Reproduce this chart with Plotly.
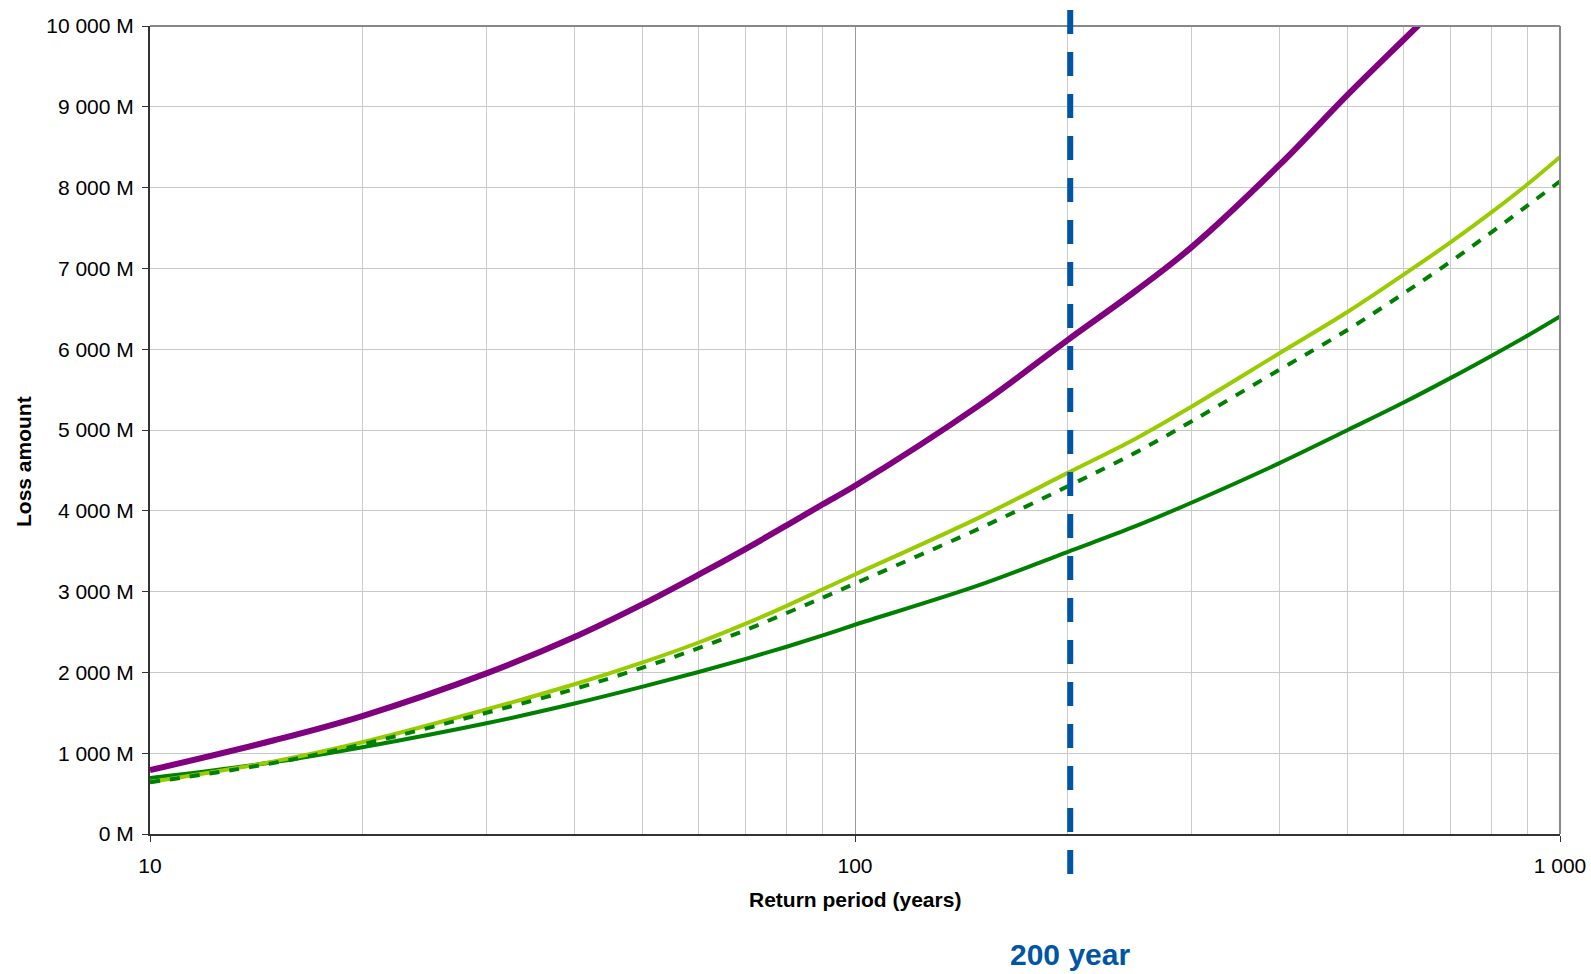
import math
import plotly.graph_objects as go

# Return periods (years)
return_period = [10, 15, 20, 30, 40, 50, 60, 70, 80, 90, 100, 150, 200, 250, 300,
                 400, 500, 600, 700, 800, 900, 1000]

# Loss amounts (millions)
purple_loss = [790, 1160, 1460, 1988, 2438, 2845, 3209, 3530, 3820, 4081, 4310, 5305,
               6110, 6720, 7260, 8280, 9150, 9830, 10400, 10900, 11350, 11750]
light_green_loss = [644, 899, 1136, 1541, 1853, 2124, 2370, 2604, 2824, 3029, 3212, 3916,
                    4466, 4892, 5288, 5950, 6464, 6923, 7325, 7696, 8044, 8380]
dashed_green_loss = [640, 880, 1110, 1500, 1795, 2060, 2300, 2525, 2735, 2925, 3100, 3780,
                     4300, 4720, 5106, 5746, 6241, 6690, 7085, 7450, 7780, 8078]
dark_green_loss = [693, 890, 1073, 1370, 1615, 1824, 2005, 2168, 2318, 2458, 2590, 3080,
                   3490, 3810, 4100, 4590, 5000, 5340, 5645, 5920, 6170, 6406]

y_ticks = [0, 1000, 2000, 3000, 4000, 5000, 6000, 7000, 8000, 9000, 10000]
y_labels = ["0 M", "1 000 M", "2 000 M", "3 000 M", "4 000 M", "5 000 M",
            "6 000 M", "7 000 M", "8 000 M", "9 000 M", "10 000 M"]
x_ticks = [10, 100, 1000]
x_labels = ["10", "100", "1 000"]
x_minor = [20, 30, 40, 50, 60, 70, 80, 90, 200, 300, 400, 500, 600, 700, 800, 900]
marker_period = 200

FONT = "Liberation Sans, Arial, sans-serif"

fig = go.Figure()
fig.add_trace(go.Scatter(x=return_period, y=dark_green_loss, mode="lines",
                         line=dict(color="#008000", width=4, shape="spline", smoothing=1),
                         showlegend=False, hoverinfo="x+y"))
fig.add_trace(go.Scatter(x=return_period, y=light_green_loss, mode="lines",
                         line=dict(color="#99CC00", width=4, shape="spline", smoothing=1),
                         showlegend=False, hoverinfo="x+y"))
fig.add_trace(go.Scatter(x=return_period, y=dashed_green_loss, mode="lines",
                         line=dict(color="#008000", width=4, dash="10px,10px",
                                   shape="spline", smoothing=1),
                         showlegend=False, hoverinfo="x+y"))
fig.add_trace(go.Scatter(x=return_period, y=purple_loss, mode="lines",
                         line=dict(color="#800080", width=6, shape="spline", smoothing=1),
                         showlegend=False, hoverinfo="x+y"))

fig.update_layout(
    width=1591, height=974,
    margin=dict(l=150, r=31, t=26, b=140, pad=0, autoexpand=False),
    paper_bgcolor="white", plot_bgcolor="white",
    font=dict(family=FONT, size=21, color="black"),
    showlegend=False,
    xaxis=dict(type="log", range=[1, 3], tickvals=x_ticks, ticktext=x_labels,
               showgrid=True, gridcolor="#9a9a9a", gridwidth=1,
               minor=dict(tickvals=x_minor, showgrid=True, gridcolor="#cccccc",
                          gridwidth=1, ticks=""),
               showline=True, linecolor="#333333", linewidth=2,
               ticks="outside", ticklen=6, tickcolor="#333333", tickwidth=1,
               ticklabelstandoff=6, automargin=False, ticklabeloverflow="allow",
               tickfont=dict(family=FONT, size=21, color="black"),
               zeroline=False, fixedrange=True),
    yaxis=dict(range=[0, 10000], tickvals=y_ticks, ticktext=y_labels,
               showgrid=True, gridcolor="#c8c8c8", gridwidth=1,
               showline=True, linecolor="#333333", linewidth=2,
               ticks="outside", ticklen=6, tickcolor="#333333", tickwidth=1,
               ticklabelstandoff=4, automargin=False,
               tickfont=dict(family=FONT, size=21, color="black"),
               zeroline=False, fixedrange=True),
)

# gray border on top and right
fig.add_shape(type="line", xref="paper", yref="paper", x0=0, x1=1, y0=1, y1=1,
              line=dict(color="#888888", width=2), layer="above")
fig.add_shape(type="line", xref="paper", yref="paper", x0=1, x1=1, y0=0, y1=1,
              line=dict(color="#888888", width=2), layer="above")

# 200-year marker (drawn a few pixels right of the 200 gridline, as in the original)
fig.add_shape(type="line", xref="x", yref="paper", xsizemode="pixel",
              xanchor=marker_period, x0=3, x1=3,
              y0=-0.0495, y1=1.0225,
              line=dict(color="#0055A5", width=6, dash="24px,18px"), layer="above")
fig.add_annotation(text="<b>200 year</b>", xref="x", yref="paper",
                   x=math.log10(marker_period), xshift=3,
                   y=-0.149, xanchor="center", yanchor="middle", showarrow=False,
                   font=dict(family=FONT, size=30, color="#0055A5"))

# axis titles
fig.add_annotation(text="<b>Return period (years)</b>", xref="paper", yref="paper",
                   x=0.5, y=-0.081, xanchor="center", yanchor="middle", showarrow=False,
                   font=dict(family=FONT, size=21, color="black"))
fig.add_annotation(text="<b>Loss amount</b>", xref="paper", yref="paper",
                   x=-0.0901, y=0.4616, xanchor="center", yanchor="middle",
                   textangle=-90, showarrow=False,
                   font=dict(family=FONT, size=21, color="black"))

# remove the browser's default page margin so the figure fills the window exactly
fig.write_html(
    "out.html",
    config={"displayModeBar": False},
    post_script="document.body.style.margin='0';"
                "document.documentElement.style.overflow='hidden';",
)
